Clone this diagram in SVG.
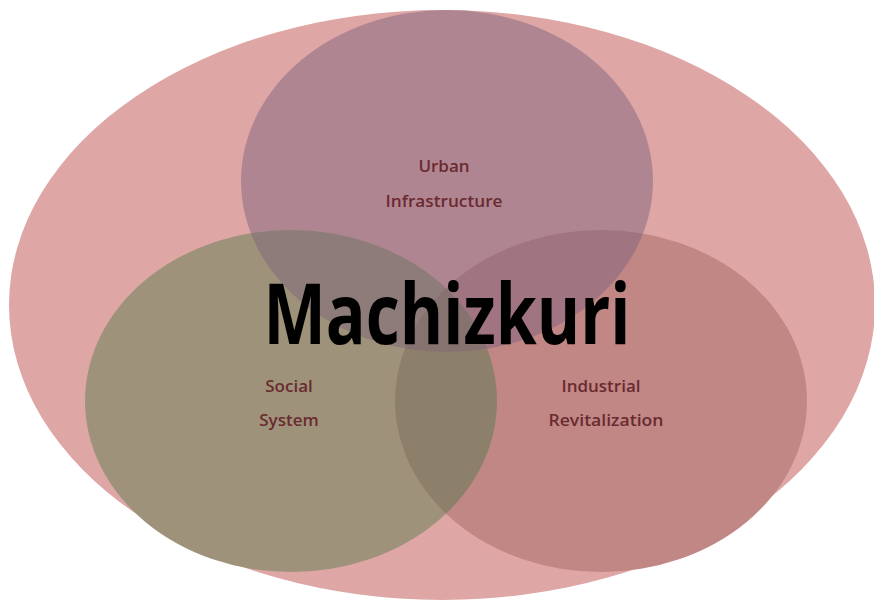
<svg xmlns="http://www.w3.org/2000/svg" width="874" height="606" viewBox="0 0 874 606">
  <style>
    .lbl { font-family: "Open Sans", "Noto Sans", "DejaVu Sans", sans-serif; font-size: 17px; font-weight: 600; fill: #6a2a30; text-anchor: middle; }
    .title { font-family: "Open Sans", "Noto Sans", "DejaVu Sans", sans-serif; font-size: 84px; font-weight: 700; fill: #000000; text-anchor: middle; }
  </style>
  <defs>
    <ellipse id="eTop" cx="447" cy="181" rx="206" ry="171"/>
    <ellipse id="eLeft" cx="291" cy="401" rx="206" ry="171"/>
    <ellipse id="eRight" cx="601" cy="401" rx="206" ry="171"/>
    <clipPath id="cLeft"><use href="#eLeft"/></clipPath>
    <clipPath id="cRight"><use href="#eRight"/></clipPath>
    <clipPath id="cTop"><use href="#eTop"/></clipPath>
  </defs>

  <rect width="874" height="606" fill="#ffffff"/>

  <!-- outer field -->
  <g id="machizkuri-field">
    <ellipse cx="442" cy="305" rx="433" ry="295" fill="#dea6a5"/>
  </g>

  <!-- three overlapping circles -->
  <g id="urban-infrastructure">
    <use href="#eTop" fill="#b08592"/>
  </g>
  <g id="social-system">
    <use href="#eLeft" fill="#9e937a"/>
  </g>
  <g id="industrial-revitalization">
    <use href="#eRight" fill="#c08785"/>
  </g>

  <!-- overlap regions -->
  <g id="overlaps">
    <use href="#eRight" fill="#8c806a" clip-path="url(#cLeft)"/>
    <use href="#eTop" fill="#8e7c7a" clip-path="url(#cLeft)"/>
    <use href="#eTop" fill="#a07480" clip-path="url(#cRight)"/>
    <g clip-path="url(#cLeft)">
      <use href="#eTop" fill="#86736f" clip-path="url(#cRight)"/>
    </g>
  </g>

  <g id="labels">
    <text class="lbl" x="444" y="172">Urban</text>
    <text class="lbl" x="444" y="207" textLength="117" lengthAdjust="spacingAndGlyphs">Infrastructure</text>
    <text class="lbl" x="289" y="392">Social</text>
    <text class="lbl" x="289" y="426">System</text>
    <text class="lbl" x="601" y="392">Industrial</text>
    <text class="lbl" x="606" y="426" textLength="115" lengthAdjust="spacingAndGlyphs">Revitalization</text>
    <text class="title" x="447" y="344" textLength="367" lengthAdjust="spacingAndGlyphs">Machizkuri</text>
  </g>
</svg>
